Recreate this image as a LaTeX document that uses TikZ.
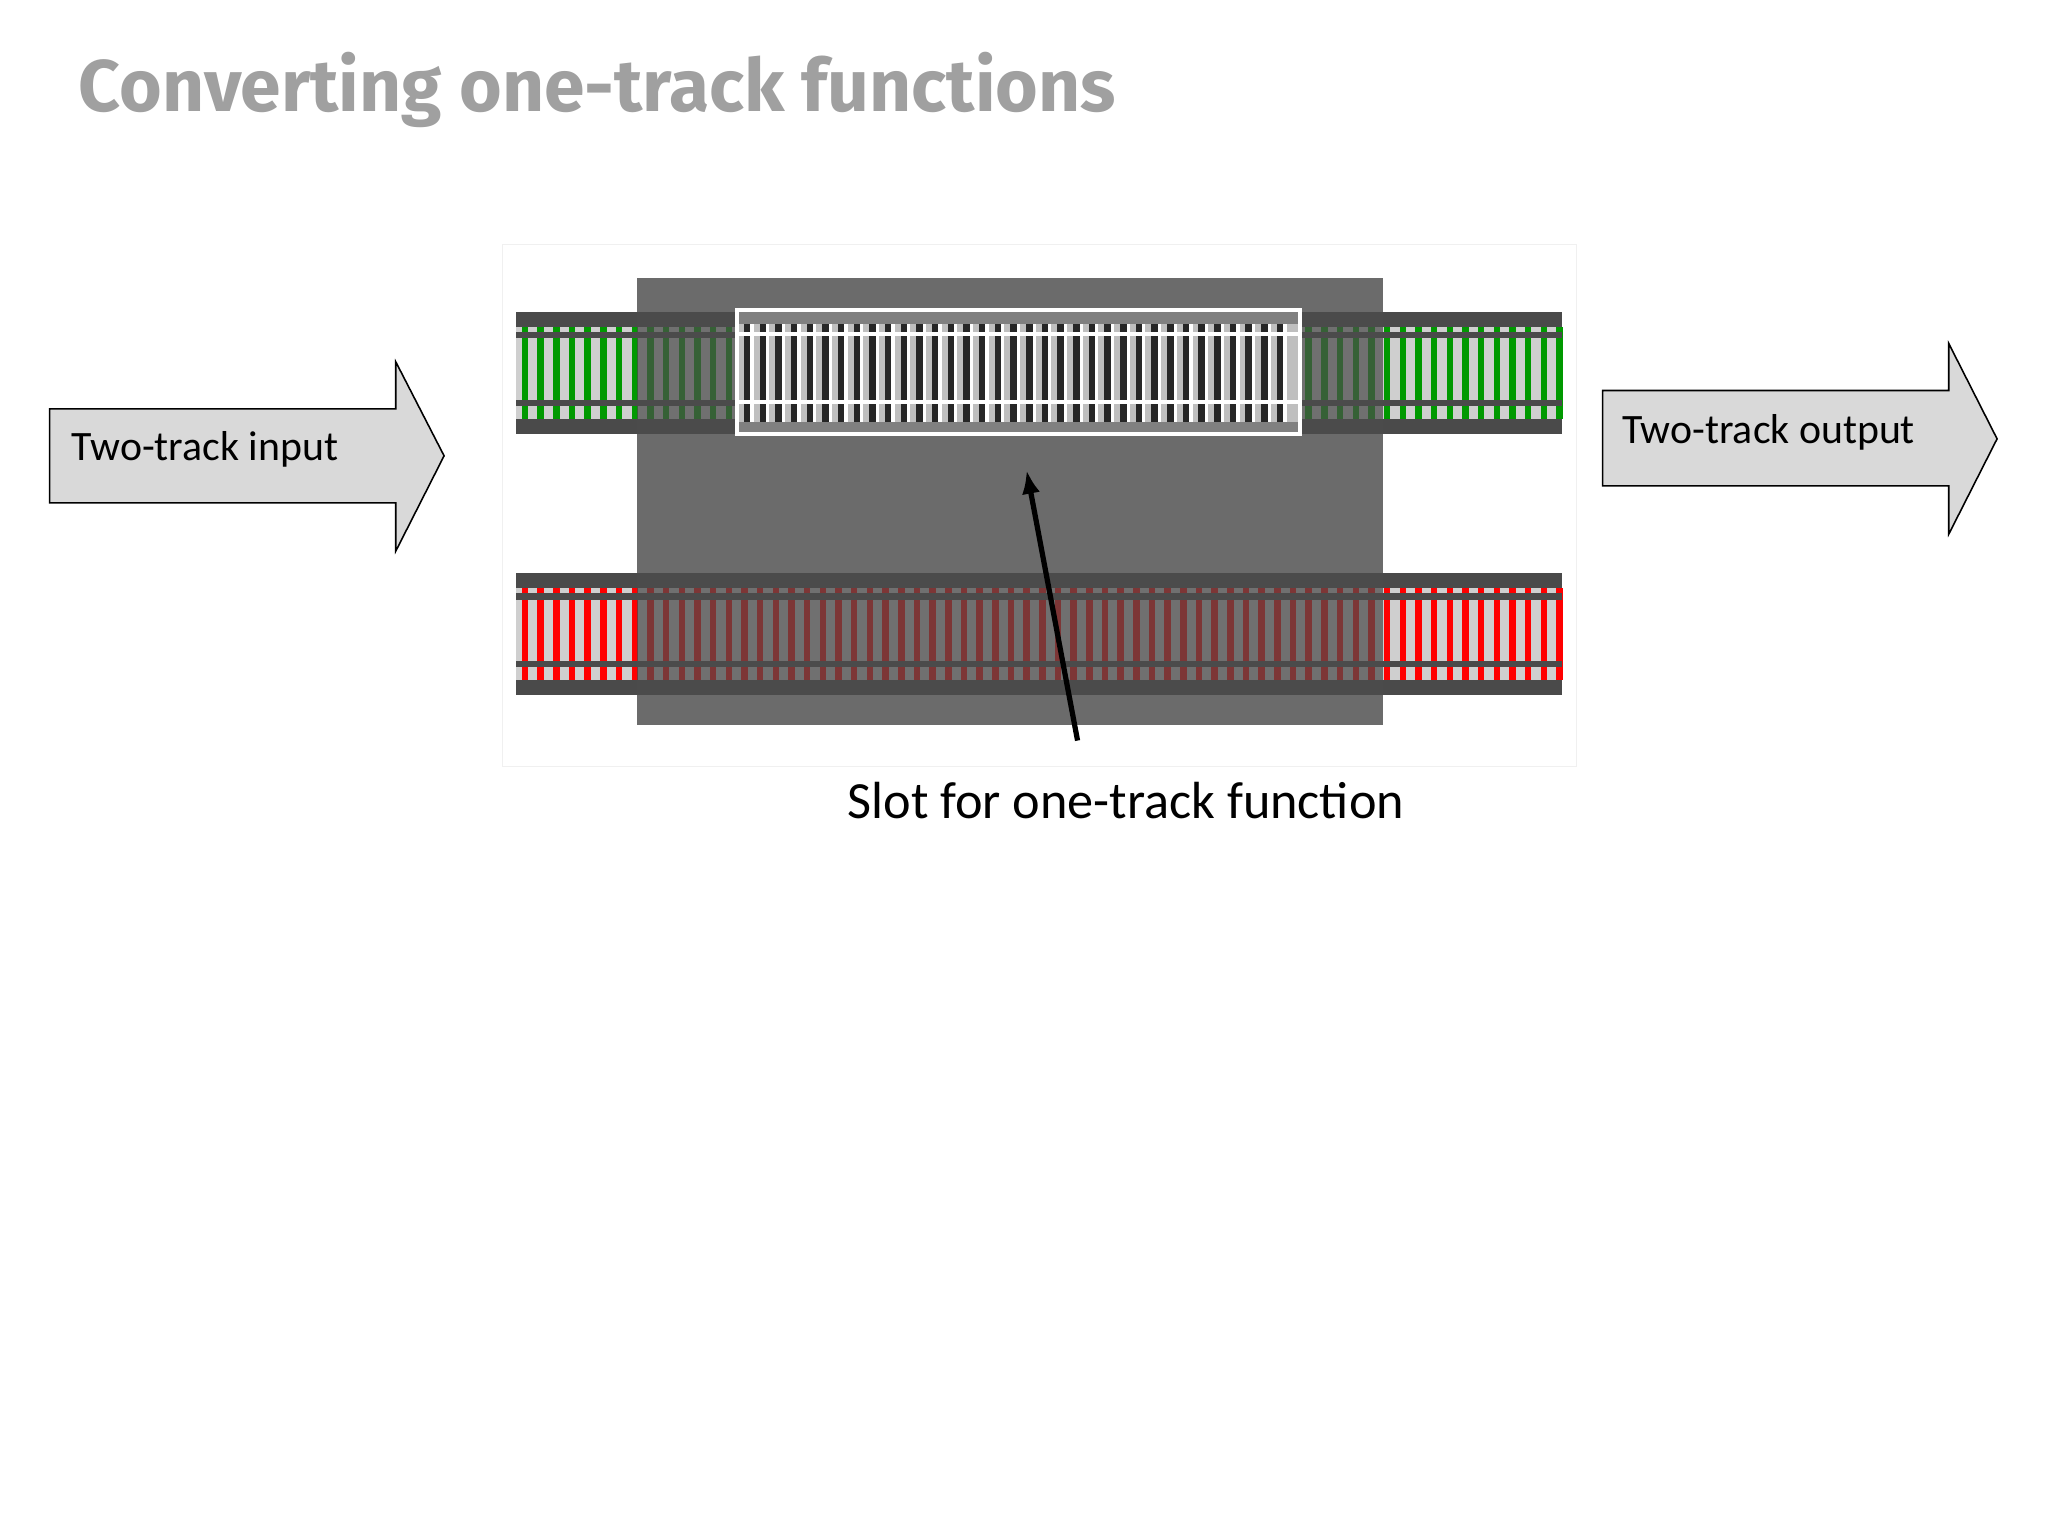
\documentclass[tikz,border=0pt]{standalone}
\usepackage{fontspec}
\setmainfont{Carlito}
\newfontfamily\titlefont{Fira Sans}
\usetikzlibrary{arrows.meta}
\definecolor{boxgray}{HTML}{6B6B6B}
\definecolor{railgray}{HTML}{4A4A4A}
\definecolor{bedgray}{HTML}{CFCFCF}
\definecolor{arrowfill}{HTML}{D9D9D9}
\definecolor{titlegray}{HTML}{A0A0A0}
\tikzset{
  bigarrow/.style={draw=black, fill=arrowfill, line width=0.6pt, line join=miter},
  lbl/.style={font=\fontsize{16}{19}\selectfont, anchor=west},
}
\begin{document}
\begin{tikzpicture}[x=0.5pt,y=-0.5pt]
\useasboundingbox (0,0) rectangle (1568,1176);
\fill[white] (0,0) rectangle (1568,1176);
\node[anchor=base west, inner sep=0, text=titlegray, font=\titlefont\bfseries\fontsize{28}{33}\selectfont] (title) at (60,85) {Converting one-track functions};
% faint frame
\draw[black!6] (385,187) rectangle (1207,587);
% central box
\fill[boxgray] (488,213) rectangle (1059,555);
% tracks
\foreach \y/\tc in {239/green!60!black, 439/red} {
  \fill[railgray] (395,\y) rectangle (1196,\y+93);
  \fill[bedgray] (395,\y+11) rectangle (1196,\y+82);
  \foreach \x in {402,414,...,1194} \fill[\tc] (\x-2.5,\y+11) rectangle (\x+2.5,\y+82);
  \fill[railgray] (395,\y+15) rectangle (1196,\y+20);
  \fill[railgray] (395,\y+67) rectangle (1196,\y+72);
  \fill[black!70, opacity=0.72] (488,\y) rectangle (1059,\y+93);
}
% slot
\fill[white] (563,236) rectangle (997,334);
\fill[black!50] (566,239) rectangle (994,331);
\fill[black!25] (566,248) rectangle (994,323);
\foreach \x in {572,584,...,990} {
  \fill[black!85] (\x-2.5,248) rectangle (\x+2.5,323);
  \fill[white] (\x+2.5,248) rectangle (\x+5,323);
}
\fill[white] (566,254) rectangle (994,257);
\fill[white] (566,306) rectangle (994,309);
% arrows
\draw[bigarrow] (38,313) -- (303,313) -- (303,277) -- (340,349) -- (303,422) -- (303,385) -- (38,385) -- cycle;
\node[lbl] (intext) at (48,344) {Two-track input};
\draw[bigarrow] (1227,299) -- (1492,299) -- (1492,263) -- (1529,336) -- (1492,409) -- (1492,372) -- (1227,372) -- cycle;
\node[lbl] (outtext) at (1235,331) {Two-track output};
% pointer
\coordinate (ptail) at (825,567);
\coordinate (phead) at (786,360);
\draw[line width=2pt, -{Latex[length=9pt,width=7pt]}] (ptail) -- (phead);
\node[font=\fontsize{20}{24}\selectfont] (slotlbl) at (862,613) {Slot for one-track function};
\end{tikzpicture}
\end{document}
